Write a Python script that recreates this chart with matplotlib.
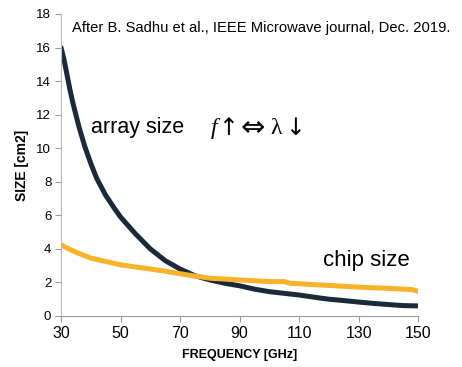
import matplotlib
matplotlib.use("Agg")
import matplotlib.pyplot as plt

# frequency [GHz] and sizes [cm2]
freq_array = [30, 31, 32, 33, 34, 36, 38, 40, 42, 45, 48, 50, 55, 60, 65, 70,
              75, 80, 85, 90, 95, 100, 105, 110, 115, 120, 125, 130, 135, 140,
              145, 150]
array_size = [16.0, 15.3, 14.4, 13.5, 12.7, 11.3, 10.1, 9.1, 8.2, 7.2, 6.4,
              5.9, 4.9, 4.0, 3.3, 2.8, 2.4, 2.15, 1.95, 1.8, 1.6, 1.45, 1.35,
              1.25, 1.12, 1.0, 0.92, 0.83, 0.75, 0.68, 0.62, 0.6]

freq_chip = [30, 32, 35, 40, 45, 50, 55, 60, 65, 70, 75, 80, 85, 90, 95, 100,
             105, 107, 110, 115, 120, 125, 130, 135, 140, 145, 148, 150]
chip_size = [4.25, 4.05, 3.8, 3.45, 3.25, 3.05, 2.92, 2.8, 2.67, 2.52, 2.38,
             2.25, 2.2, 2.15, 2.1, 2.05, 2.05, 1.95, 1.92, 1.87, 1.82, 1.77,
             1.72, 1.68, 1.65, 1.6, 1.57, 1.48]

xticks = [30, 50, 70, 90, 110, 130, 150]
yticks = [0, 2, 4, 6, 8, 10, 12, 14, 16, 18]

plt.rcParams['font.family'] = ['Liberation Sans', 'DejaVu Sans']

fig = plt.figure(figsize=(4.62, 3.67), dpi=100)
ax = fig.add_axes([0.132, 0.139, 0.773, 0.823])

ax.plot(freq_array, array_size, color='#1b2a3b', lw=3.6, solid_capstyle='round')
ax.plot(freq_chip, chip_size, color='#f7b329', lw=3.6, solid_capstyle='round')

ax.set_xlim(30, 150)
ax.set_ylim(0, 18)
ax.set_xticks(xticks)
ax.set_yticks(yticks)
ax.tick_params(axis='x', labelsize=11.5, length=4, color='#999999', pad=3)
ax.tick_params(axis='y', labelsize=9.5, length=4, color='#999999', pad=3)

for s in ['top', 'right']:
    ax.spines[s].set_visible(False)
ax.spines['left'].set_color('#bbbbbb')
ax.spines['bottom'].set_color('#999999')

ax.set_xlabel('FREQUENCY [GHz]', fontsize=9, fontweight='bold', labelpad=6)
ax.set_ylabel('SIZE [cm2]', fontsize=10, fontweight='bold', labelpad=5)

fig.text(0.156, 0.925, 'After B. Sadhu et al., IEEE Microwave journal, Dec. 2019.',
         fontsize=10.6, va='center')
fig.text(0.198, 0.652, 'array size', fontsize=15.5, va='center')

# f up <=> lambda down, each sign placed on its own
serif = ['Liberation Serif', 'DejaVu Serif', 'DejaVu Sans']
sym_y = 0.651
fig.text(214 / 462, sym_y, 'f', fontsize=17, style='italic', ha='center',
         va='center', family=serif)
fig.text(228 / 462, sym_y, '\u2191', fontsize=17, ha='center', va='center',
         family=['DejaVu Sans'])
fig.text(252.5 / 462, sym_y, '\u21d4', fontsize=21, ha='center', va='center',
         family=['DejaVu Sans'])
fig.text(276 / 462, sym_y, '\u03bb', fontsize=17, ha='center', va='center',
         family=serif)
fig.text(295 / 462, sym_y, '\u2193', fontsize=17, ha='center', va='center',
         family=['DejaVu Sans'])
fig.text(0.699, 0.29, 'chip size', fontsize=16, va='center')

fig.savefig('out.png', dpi=100)
